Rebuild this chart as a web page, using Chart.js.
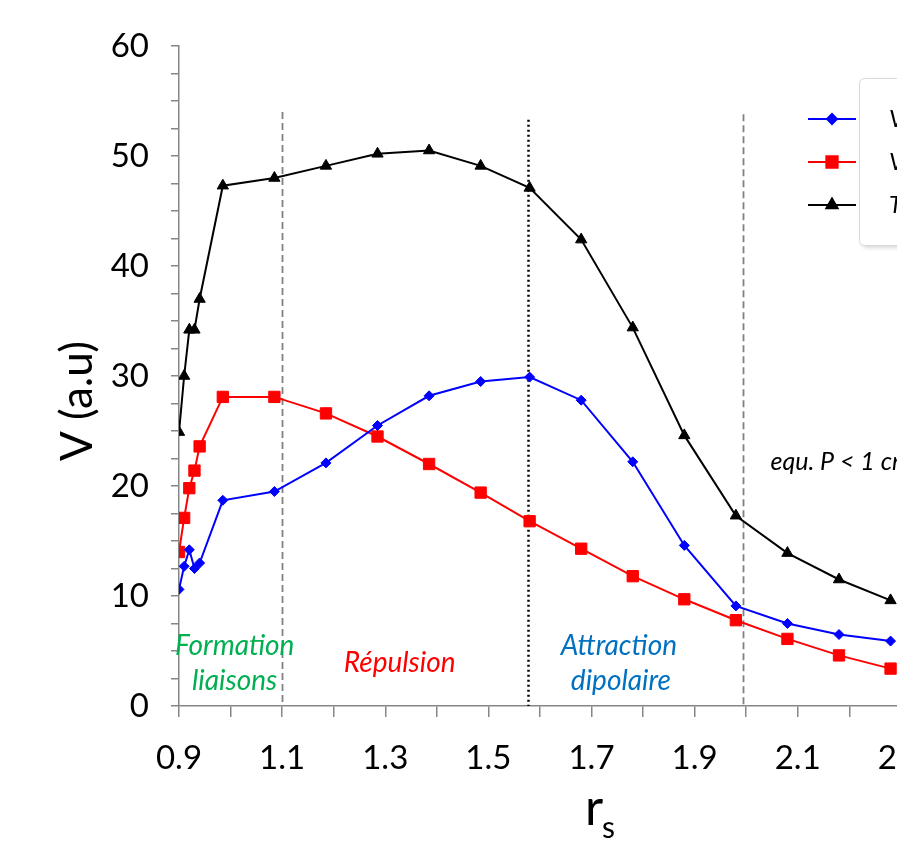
<!DOCTYPE html>
<html>
<head>
<meta charset="utf-8">
<script src="https://cdn.jsdelivr.net/npm/chart.js@4.4.0/dist/chart.umd.min.js"></script>
<style>
html, body { margin:0; padding:0; overflow:hidden; background:#fff; width:897px; height:846px; }
#wrap { position:absolute; left:0; top:0; width:1100px; height:846px; }
</style>
</head>
<body>
<div id="wrap"><canvas id="c" width="1100" height="846"></canvas></div>
<script>
// r_s values and the three curves
var rs = [0.9, 0.91, 0.92, 0.93, 0.94, 0.985, 1.085, 1.185, 1.285, 1.385, 1.485, 1.58, 1.68, 1.78, 1.88, 1.98, 2.08, 2.18, 2.28];
var vBlue = [10.6, 12.7, 14.2, 12.5, 13.0, 18.7, 19.5, 22.1, 25.5, 28.2, 29.5, 29.9, 27.8, 22.2, 14.6, 9.1, 7.5, 6.5, 5.9];
var vRed = [14.0, 17.1, 19.8, 21.4, 23.6, 28.1, 28.1, 26.6, 24.5, 22.0, 19.4, 16.8, 14.3, 11.8, 9.7, 7.8, 6.1, 4.6, 3.4];
var vBlack = [24.9, 30.0, 34.2, 34.2, 37.0, 47.3, 48.0, 49.1, 50.2, 50.5, 49.1, 47.1, 42.4, 34.4, 24.6, 17.3, 13.9, 11.5, 9.6];
var seriesNames = ['V attractif', 'V répulsif', 'Total'];

// zone limits (vertical lines) and where they stop at the top
var zoneX = [1.1, 1.577, 1.994];
var zoneTop = [54, 53.3, 53.8];

function pts(vals){
    return vals.map(function(v, i){ return {x: rs[i], y: v}; });
}

var styles = [
    {color: '#0000ff', pointStyle: 'rectRot', radius: 5},
    {color: '#ff0000', pointStyle: 'rect', radius: 8},
    {color: '#000000', pointStyle: 'triangle', radius: 6.5}
];

var notes = {
    id: 'notes',
    beforeDatasetsDraw: function(chart){
        var ctx = chart.ctx, x = chart.scales.x, y = chart.scales.y;
        ctx.save();
        for (var i = 0; i < zoneX.length; i++){
            var px = Math.round(x.getPixelForValue(zoneX[i])) + 0.5;
            ctx.beginPath();
            if (i == 1){
                ctx.strokeStyle = '#000';
                ctx.lineWidth = 2.5;
                ctx.setLineDash([2, 3]);
            } else {
                ctx.strokeStyle = '#808080';
                ctx.lineWidth = 1.8;
                ctx.setLineDash([7, 4]);
            }
            ctx.moveTo(px, y.getPixelForValue(zoneTop[i]));
            ctx.lineTo(px, y.getPixelForValue(0));
            ctx.stroke();
        }
        ctx.restore();
    },
    afterDraw: function(chart){
        var ctx = chart.ctx, x = chart.scales.x, y = chart.scales.y;
        ctx.save();
        ctx.textAlign = 'center';
        ctx.textBaseline = 'middle';
        ctx.font = 'italic 28px Lato';
        ctx.fillStyle = '#00b050';
        ctx.fillText('Formation', x.getPixelForValue(1.008), y.getPixelForValue(5.45));
        ctx.fillText('liaisons', x.getPixelForValue(1.008), y.getPixelForValue(2.27));
        ctx.fillStyle = '#ff0000';
        ctx.fillText('Répulsion', x.getPixelForValue(1.328), y.getPixelForValue(3.9));
        ctx.fillStyle = '#0070c0';
        ctx.fillText('Attraction', x.getPixelForValue(1.753), y.getPixelForValue(5.45));
        ctx.fillText('dipolaire', x.getPixelForValue(1.757), y.getPixelForValue(2.27));

        ctx.fillStyle = '#000';
        ctx.textAlign = 'left';
        ctx.font = 'italic 25px Lato';
        ctx.fillText('equ. P < 1 cm', x.getPixelForValue(2.047), y.getPixelForValue(22.2));

        // axis titles
        ctx.font = '44px Lato';
        ctx.textAlign = 'center';
        ctx.save();
        ctx.translate(78, 401);
        ctx.rotate(-Math.PI / 2);
        ctx.fillText('V (a.u)', 0, 0);
        ctx.restore();
        ctx.textAlign = 'left';
        ctx.textBaseline = 'alphabetic';
        ctx.font = '50px Lato';
        ctx.fillText('r', 585, 825);
        ctx.font = '30px Lato';
        ctx.fillText('s', 602, 838);

        // legend
        ctx.save();
        ctx.shadowColor = 'rgba(0,0,0,0.18)';
        ctx.shadowBlur = 4;
        ctx.shadowOffsetX = 2;
        ctx.shadowOffsetY = 2;
        ctx.fillStyle = '#fff';
        ctx.strokeStyle = '#d9d9d9';
        ctx.lineWidth = 1;
        ctx.beginPath();
        ctx.roundRect(859.5, 78.5, 200, 167, 5);
        ctx.fill();
        ctx.shadowColor = 'transparent';
        ctx.stroke();
        ctx.restore();
        ctx.font = 'italic 24px Lato';
        ctx.textBaseline = 'middle';
        for (var i = 0; i < styles.length; i++){
            var ly = 119 + i * 43;
            ctx.strokeStyle = styles[i].color;
            ctx.fillStyle = styles[i].color;
            ctx.lineWidth = 2;
            ctx.beginPath();
            ctx.moveTo(808, ly);
            ctx.lineTo(856, ly);
            ctx.stroke();
            Chart.helpers.drawPoint(ctx, {pointStyle: styles[i].pointStyle, radius: styles[i].radius, rotation: 0, borderWidth: 1}, 832, ly);
            ctx.fillStyle = '#000';
            ctx.fillText(seriesNames[i], 889, ly);
        }
        ctx.restore();
    }
};

var datasets = [vBlue, vRed, vBlack].map(function(vals, i){
    return {
        label: seriesNames[i],
        data: pts(vals),
        borderColor: styles[i].color,
        backgroundColor: styles[i].color,
        borderWidth: 2,
        pointStyle: styles[i].pointStyle,
        pointRadius: styles[i].radius,
        pointBorderWidth: 1,
        tension: 0
    };
});

var axisGray = '#868686';

new Chart(document.getElementById('c').getContext('2d'), {
    type: 'line',
    data: {datasets: datasets},
    options: {
        responsive: false,
        animation: false,
        layout: {padding: {left: 0, top: 46, right: 96, bottom: 0}},
        plugins: {legend: {display: false}, tooltip: {enabled: false}},
        scales: {
            x: {
                type: 'linear',
                min: 0.9,
                max: 2.5,
                afterFit: function(s){ s.height = 140; },
                grid: {drawOnChartArea: false, tickLength: 11, color: axisGray, lineWidth: 1.5},
                border: {color: axisGray, width: 1.5},
                ticks: {
                    stepSize: 0.1,
                    autoSkip: false,
                    maxRotation: 0,
                    padding: 22,
                    color: '#000',
                    font: {family: 'Lato', size: 33},
                    callback: function(v){
                        var k = Math.round(v * 10);
                        return k % 2 == 1 ? (k / 10).toFixed(1) : '';
                    }
                }
            },
            y: {
                min: 0,
                max: 60,
                afterFit: function(s){ s.width = 179; },
                grid: {drawOnChartArea: false, tickLength: 8, color: axisGray, lineWidth: 1.5},
                border: {color: axisGray, width: 1.5},
                ticks: {
                    stepSize: 2.5,
                    autoSkip: false,
                    padding: 22,
                    color: '#000',
                    font: {family: 'Lato', size: 33},
                    callback: function(v){ return v % 10 == 0 ? v : ''; }
                }
            }
        }
    },
    plugins: [notes]
});
</script>
</body>
</html>
